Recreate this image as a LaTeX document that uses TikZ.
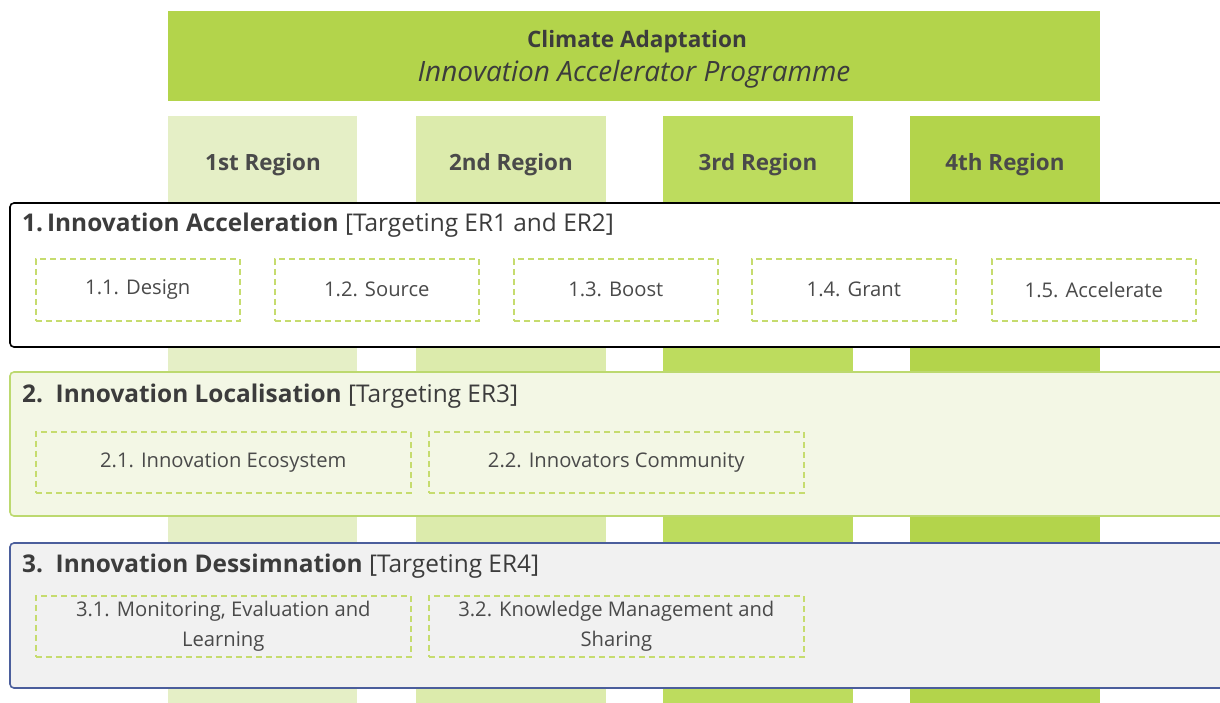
\documentclass[tikz,border=0pt]{standalone}
\usepackage{fontspec}
\setmainfont{Open Sans}
\definecolor{banner}{HTML}{B3D44B}
\definecolor{colA}{HTML}{E5EFC6}
\definecolor{colB}{HTML}{DCEBAC}
\definecolor{colC}{HTML}{BDDC5E}
\definecolor{colD}{HTML}{B3D44B}
\definecolor{txt}{HTML}{3C3C3C}
\definecolor{subtxt}{HTML}{4A4A4A}
\definecolor{dashc}{HTML}{C6DC6E}
\definecolor{fillB}{HTML}{F3F7E5}
\definecolor{edgeB}{HTML}{BCD96F}
\definecolor{fillC}{HTML}{F1F1F1}
\definecolor{edgeC}{HTML}{4B5E9C}
\tikzset{
  regioncol/.style={draw=none, inner sep=0pt, anchor=north west},
  regionlabel/.style={font=\fontsize{22.4}{26}\selectfont\bfseries, text=subtxt},
  bigbox/.style={rounded corners=4pt, line width=1.6pt},
  titletext/.style={anchor=base west, inner sep=0pt, font=\fontsize{24.4}{28}\selectfont, text=txt},
  subbox/.style={draw=dashc, dash pattern=on 6pt off 4pt, line width=1.6pt, inner sep=0pt, anchor=north west, align=center,
                 font=\fontsize{20.2}{30}\selectfont, text=subtxt},
}
\begin{document}
\begin{tikzpicture}[x=1pt,y=-1pt]
\useasboundingbox (0,0) rectangle (1220,702);
\clip (0,0) rectangle (1220,702);
\fill[white] (0,0) rectangle (1220,702);
% banner
\node[fill=banner, minimum width=932pt, minimum height=90pt, inner sep=0pt, anchor=north west] (banner) at (168,11) {};
\node[font=\fontsize{22.6}{26}\selectfont\bfseries, text=txt] (bt1) at (637,42) {Climate Adaptation};
\node[font=\fontsize{28}{32}\selectfont\itshape, text=txt] (bt2) at (634,74) {Innovation Accelerator Programme};
% region columns
\node[regioncol, fill=colA, minimum width=189pt, minimum height=590pt] (c1) at (168,116) {};
\node[regioncol, fill=colB, minimum width=190pt, minimum height=590pt] (c2) at (416,116) {};
\node[regioncol, fill=colC, minimum width=190pt, minimum height=590pt] (c3) at (663,116) {};
\node[regioncol, fill=colD, minimum width=190pt, minimum height=590pt] (c4) at (910,116) {};
\node[regionlabel] (r1) at (263,165) {1st Region};
\node[regionlabel] (r2) at (511,165) {2nd Region};
\node[regionlabel] (r3) at (758,165) {3rd Region};
\node[regionlabel] (r4) at (1005,165) {4th Region};
% box 1
\draw[bigbox, draw=black, fill=white] (10,203) rectangle (1240,347);
\node[titletext] (t1) at (22,231) {\textbf{1.\,Innovation Acceleration} [Targeting ER1 and ER2]};
\node[subbox, minimum width=204pt, minimum height=62pt] (s11) at (35,258) {1.1. Design};
\node[subbox, minimum width=204pt, minimum height=62pt] (s12) at (274,258) {1.2. Source};
\node[subbox, minimum width=204pt, minimum height=62pt] (s13) at (513,258) {1.3. Boost};
\node[subbox, minimum width=204pt, minimum height=62pt] (s14) at (751,258) {1.4. Grant};
\node[subbox, minimum width=204pt, minimum height=62pt] (s15) at (991,258) {1.5. Accelerate};
% box 2
\draw[bigbox, draw=edgeB, fill=fillB] (10,372) rectangle (1240,516);
\node[titletext] (t2) at (22,402) {\textbf{2.\ \ Innovation Localisation} [Targeting ER3]};
\node[subbox, minimum width=375pt, minimum height=61pt] (s21) at (35,431) {2.1. Innovation Ecosystem};
\node[subbox, minimum width=375pt, minimum height=61pt] (s22) at (428,431) {2.2. Innovators Community};
% box 3
\draw[bigbox, draw=edgeC, fill=fillC] (10,543) rectangle (1240,688);
\node[titletext] (t3) at (22,572) {\textbf{3.\ \ Innovation Dessimnation} [Targeting ER4]};
\node[subbox, minimum width=375pt, minimum height=61pt] (s31) at (35,595) {3.1. Monitoring, Evaluation and\\Learning};
\node[subbox, minimum width=375pt, minimum height=61pt] (s32) at (428,595) {3.2. Knowledge Management and\\Sharing};
\end{tikzpicture}
\end{document}
